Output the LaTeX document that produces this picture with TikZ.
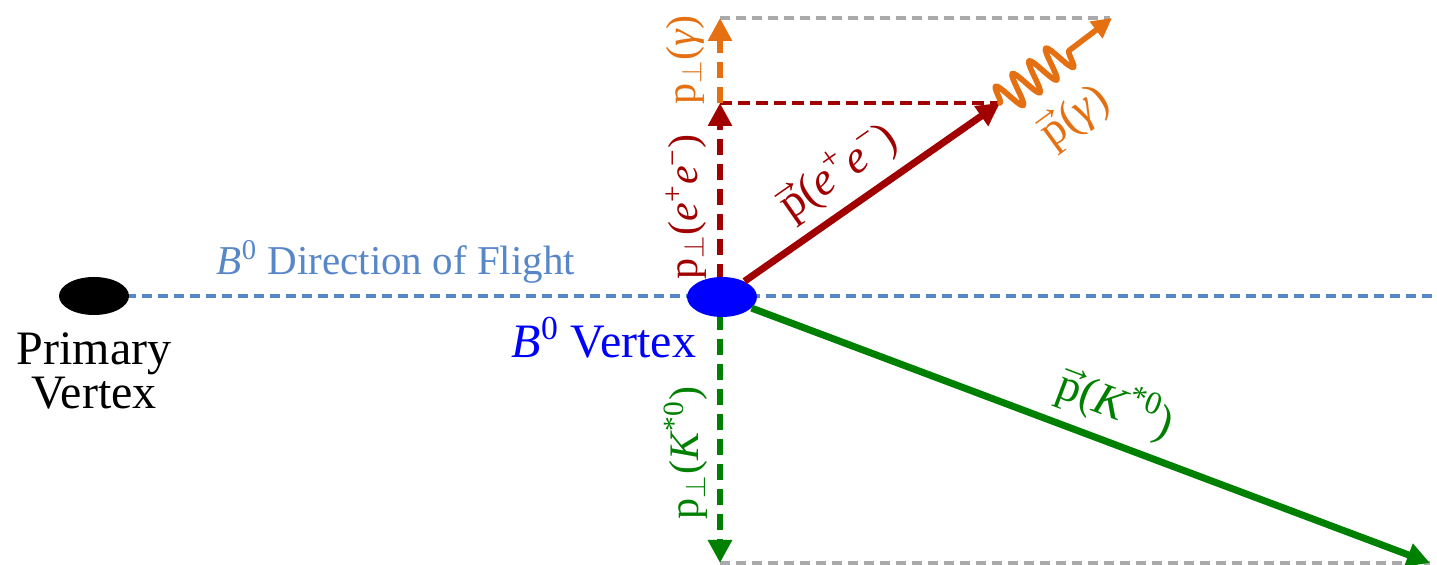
\documentclass[tikz,border=0pt]{standalone}
\usepackage{fontspec}
\setmainfont{Liberation Serif}
\usetikzlibrary{arrows.meta,decorations.pathmorphing,shapes.geometric}
\definecolor{dred}{RGB}{160,0,0}
\definecolor{orng}{RGB}{228,112,18}
\definecolor{grn}{RGB}{0,128,0}
\definecolor{flight}{RGB}{88,135,200}
\definecolor{gry}{RGB}{170,170,170}
\newcommand\vp{\makebox[0pt][l]{\raisebox{0.5em}{\hspace{-0.15em}{\fontsize{19}{19}\selectfont →}}}p}
\begin{document}
\begin{tikzpicture}[x=0.5pt,y=-0.5pt,
 tip/.style={-{Triangle[length=11.5pt,width=11.5pt]}},
 vecarrow/.style={line width=3.5pt, tip},
 perparrow/.style={line width=3.2pt, dash pattern=on 8pt off 4.5pt, tip},
 guide/.style={gry, line width=1.6pt, dash pattern=on 5pt off 3pt},
 lbl/.style={font=\fontsize{23}{26}\selectfont, inner sep=0pt},
 plbl/.style={font=\fontsize{21}{24}\selectfont, inner sep=0pt, rotate=90},
 vtx/.style={ellipse, minimum width=35pt, minimum height=19pt, inner sep=0pt}]
\useasboundingbox (0,0) rectangle (1437,565);
% coordinates
\coordinate (far) at (1437,296);
\coordinate (ptop) at (720,18);
\coordinate (pmid) at (720,103);
\coordinate (pbot) at (720,563);
\coordinate (pstart) at (720,280);
\coordinate (kstart) at (720,314);
\coordinate (ee) at (1000,103);
\coordinate (gam) at (1112,18);
\coordinate (kk) at (1430,563);
\coordinate (gtopend) at (1110,18);
% guide lines
\draw[guide] (ptop) -- (gtopend);
\draw[guide] (pbot) -- (kk);
\draw[flight, line width=1.7pt, dash pattern=on 5pt off 3pt] (94,296) -- (far);
\draw[dred, line width=1.6pt, dash pattern=on 6pt off 3pt] (pmid) -- (ee);
% perpendicular components
\draw[perparrow, dred] (pstart) -- (pmid);
\draw[perparrow, orng, tip] (pmid) -- (ptop);
\draw[perparrow, grn] (kstart) -- (pbot);
% vertices
\node[vtx, fill=black] (pv) at (94,296) {};
\node[vtx, fill=blue, minimum height=20pt] (bv) at (722,297) {};
% momentum vectors
\draw[vecarrow, dred] (bv) -- (ee);
\draw[vecarrow, grn] (bv) -- (kk);
\draw[orng, line width=2.8pt, line cap=round, line join=round, decorate,
  decoration={snake, amplitude=8pt, segment length=10.5pt, post length=22pt},
  -{Triangle[length=10pt,width=10pt]}] (ee) -- (gam);
% labels
\node[lbl, flight, font=\fontsize{20.5}{24}\selectfont] (ldir) at (396,262) {\textit{B}\textsuperscript{0} Direction of Flight};
\node[lbl, blue, font=\fontsize{24}{26}\selectfont] (lbv) at (604,338) {\textit{B}\textsuperscript{0} Vertex};
\node[lbl, black, align=center, font=\fontsize{24}{22}\selectfont] (lpv) at (94,371) {Primary\\Vertex};
\node[plbl, orng] (lpg) at (685,60) {p\textsubscript{$\perp$}(\textit{γ})};
\node[plbl, dred] (lpe) at (686,207) {p\textsubscript{$\perp$}(\textit{e}\textsuperscript{+}\textit{e}\textsuperscript{−})};
\node[plbl, grn] (lpk) at (686,453) {p\textsubscript{$\perp$}(\textit{K}\textsuperscript{*0})};
\node[lbl, dred, rotate=35] (lve) at (838,172) {\vp(\textit{e}\textsuperscript{+}\textit{e}\textsuperscript{−})};
\node[lbl, orng, rotate=36] (lvg) at (1075,117) {\vp(\textit{γ})};
\node[lbl, grn, rotate=-20.7] (lvk) at (1116,404) {\vp(\textit{K}\textsuperscript{*0})};
\end{tikzpicture}
\end{document}
